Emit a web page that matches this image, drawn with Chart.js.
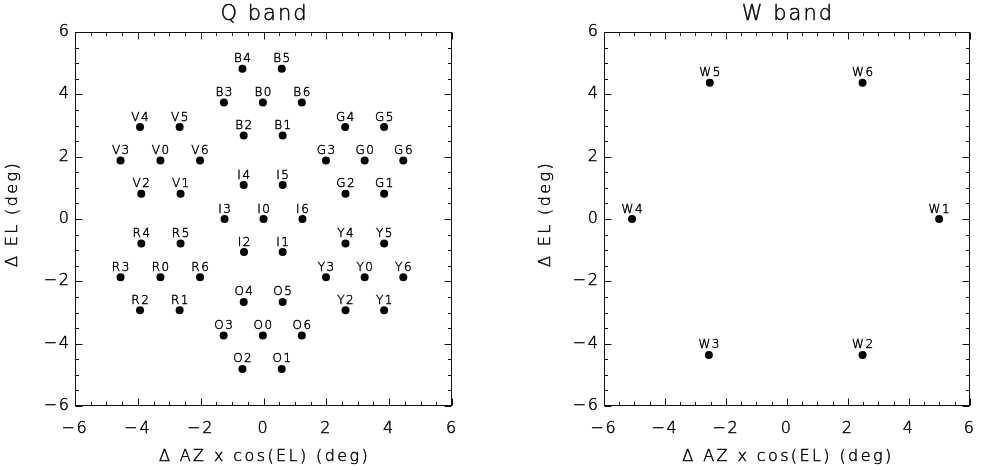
<!DOCTYPE html>
<html>
<head>
<meta charset="utf-8">
<script src="https://cdn.jsdelivr.net/npm/chart.js@4.4.1/dist/chart.umd.min.js"></script>
<style>
  html, body { margin: 0; padding: 0; background: #fff; }
  .panel { position: absolute; top: 0; width: 494px; height: 470px; }
  #qPanel { left: 0; }
  #wPanel { left: 494px; }
</style>
</head>
<body>
<div class="panel" id="qPanel"><canvas id="qband"></canvas></div>
<div class="panel" id="wPanel"><canvas id="wband"></canvas></div>
<script>
"use strict";

// Q band feed horns (offsets in deg)
const qLabels = [
  "B4", "B5", "B3", "B0", "B6", "B2", "B1",
  "V4", "V5", "V3", "V0", "V6", "V2", "V1",
  "G4", "G5", "G3", "G0", "G6", "G2", "G1",
  "I4", "I5", "I3", "I0", "I6", "I2", "I1",
  "R4", "R5", "R3", "R0", "R6", "R2", "R1",
  "Y4", "Y5", "Y3", "Y0", "Y6", "Y2", "Y1",
  "O4", "O5", "O3", "O0", "O6", "O2", "O1"
];
const qX = [
  -0.67, 0.58, -1.26, -0.02, 1.22, -0.63, 0.61,
  -3.93, -2.67, -4.55, -3.28, -2.02, -3.89, -2.64,
  2.60, 3.84, 1.99, 3.22, 4.45, 2.61, 3.84,
  -0.63, 0.61, -1.24, 0.00, 1.24, -0.62, 0.61,
  -3.89, -2.64, -4.55, -3.28, -2.02, -3.93, -2.67,
  2.61, 3.84, 1.99, 3.22, 4.45, 2.61, 3.84,
  -0.63, 0.61, -1.27, -0.02, 1.22, -0.67, 0.58
];
const qY = [
  4.82, 4.82, 3.74, 3.74, 3.74, 2.68, 2.68,
  2.95, 2.95, 1.88, 1.88, 1.88, 0.81, 0.81,
  2.95, 2.95, 1.88, 1.88, 1.88, 0.81, 0.81,
  1.09, 1.09, 0.00, 0.00, 0.00, -1.06, -1.06,
  -0.79, -0.79, -1.87, -1.87, -1.87, -2.93, -2.93,
  -0.79, -0.79, -1.87, -1.87, -1.87, -2.93, -2.93,
  -2.66, -2.66, -3.74, -3.74, -3.74, -4.81, -4.81
];

// W band feed horns
const wLabels = ["W5", "W6", "W4", "W1", "W3", "W2"];
const wX = [-2.53, 2.48, -5.08, 4.99, -2.56, 2.48];
const wY = [4.37, 4.37, 0.00, 0.00, -4.36, -4.36];

const majorTicks = [-6, -4, -2, 0, 2, 4, 6];
const xTitle = "\u0394 AZ x cos(EL) (deg)";
const yTitle = "\u0394 EL (deg)";

const FONT = "'DejaVu Sans', sans-serif";

const fmtTick = (v) => (v < 0 ? "\u2212" + (-v) : String(v));

// thin font, darkened with a hairline stroke
function thinText(ctx, text, x, y, size, spacing) {
  ctx.font = "200 " + size + "px " + FONT;
  ctx.letterSpacing = spacing + "px";
  ctx.fillText(text, x, y);
  ctx.lineWidth = 0.45;
  ctx.strokeText(text, x, y);
}


// wide lettering for the tick labels chart.js writes itself
const spacingPlugin = {
  id: "spacing",
  beforeDraw(chart) {
    chart.ctx.letterSpacing = "2px";
  }
};

// box round the plot, ticks pointing inward on every side
const framePlugin = {
  id: "frame",
  afterDraw(chart) {
    const { ctx, chartArea: a, scales: { x, y } } = chart;
    const L = Math.round(a.left) + 0.5, R = Math.round(a.right) - 0.5;
    const T = Math.round(a.top) + 0.5, B = Math.round(a.bottom) - 0.5;
    ctx.save();
    ctx.strokeStyle = "#111";
    ctx.lineWidth = 1;
    ctx.strokeRect(L, T, R - L, B - T);
    ctx.beginPath();
    x.ticks.forEach((t) => {
      const len = majorTicks.includes(t.value) ? 7 : 3.5;
      const px = Math.round(x.getPixelForValue(t.value)) + 0.5;
      ctx.moveTo(px, B); ctx.lineTo(px, B - len);
      ctx.moveTo(px, T); ctx.lineTo(px, T + len);
    });
    y.ticks.forEach((t) => {
      const len = majorTicks.includes(t.value) ? 7 : 3.5;
      const py = Math.round(y.getPixelForValue(t.value)) + 0.5;
      ctx.moveTo(L, py); ctx.lineTo(L + len, py);
      ctx.moveTo(R, py); ctx.lineTo(R - len, py);
    });
    ctx.stroke();
    ctx.restore();
  }
};

// horn names above each dot, band title and axis titles
const labelPlugin = {
  id: "hornLabels",
  afterDatasetsDraw(chart, args, opts) {
    const { ctx, chartArea: a } = chart;
    const meta = chart.getDatasetMeta(0);
    const cx = (a.left + a.right) / 2;
    const cy = (a.top + a.bottom) / 2;
    ctx.save();
    ctx.fillStyle = "#000";
    ctx.strokeStyle = "#000";
    ctx.textAlign = "center";
    ctx.textBaseline = "alphabetic";
    meta.data.forEach((pt, i) => {
      thinText(ctx, opts.names[i], pt.x + 0.75, pt.y - 6.5, 12, 1.5);
    });
    ctx.textBaseline = "middle";
    thinText(ctx, opts.title, cx + 1, 15, 21, 2);
    thinText(ctx, xTitle, cx + 1, 457, 16, 2.4);
    ctx.translate(opts.yTitleX, cy - 4);
    ctx.rotate(-Math.PI / 2);
    thinText(ctx, yTitle, 1, 0, 16, 2.4);
    ctx.restore();
  }
};


function makeBandChart(id, title, names, xs, ys, yAxisWidth, rightPad, yTitleX) {
  const points = xs.map((v, i) => ({ x: v, y: ys[i] }));
  const tickFont = { family: FONT, size: 16, weight: 200 };
  const tickLabel = (v) => (majorTicks.includes(v) ? fmtTick(v) : "");

  return new Chart(document.getElementById(id), {
    type: "scatter",
    data: {
      datasets: [{
        data: points,
        pointRadius: 4,
        pointHoverRadius: 4,
        pointBackgroundColor: "#000",
        pointBorderColor: "#000",
        pointBorderWidth: 0
      }]
    },
    options: {
      responsive: true,
      maintainAspectRatio: false,
      animation: false,
      events: [],
      layout: { padding: { top: 32, right: rightPad, left: 0, bottom: 0 } },
      plugins: {
        legend: { display: false },
        tooltip: { enabled: false },
        hornLabels: { names: names, title: title, yTitleX: yTitleX }
      },
      scales: {
        x: {
          type: "linear",
          min: -6, max: 6,
          grid: { display: false, drawTicks: false },
          border: { display: false },
          ticks: {
            stepSize: 0.5, autoSkip: false, maxRotation: 0, padding: 13,
            color: "#000", font: tickFont,
            textStrokeColor: "#000", textStrokeWidth: 0.45,
            callback: tickLabel
          },
          afterFit: (scale) => { scale.height = 64; }
        },
        y: {
          type: "linear",
          min: -6, max: 6,
          grid: { display: false, drawTicks: false },
          border: { display: false },
          ticks: {
            stepSize: 0.5, autoSkip: false, padding: 4,
            color: "#000", font: tickFont,
            textStrokeColor: "#000", textStrokeWidth: 0.45,
            callback: tickLabel
          },
          afterFit: (scale) => { scale.width = yAxisWidth; }
        }
      }
    },
    plugins: [spacingPlugin, framePlugin, labelPlugin]
  });
}

makeBandChart("qband", "Q band", qLabels, qX, qY, 75, 42, 13);
makeBandChart("wband", "W band", wLabels, wX, wY, 110, 7, 52);
</script>
</body>
</html>
